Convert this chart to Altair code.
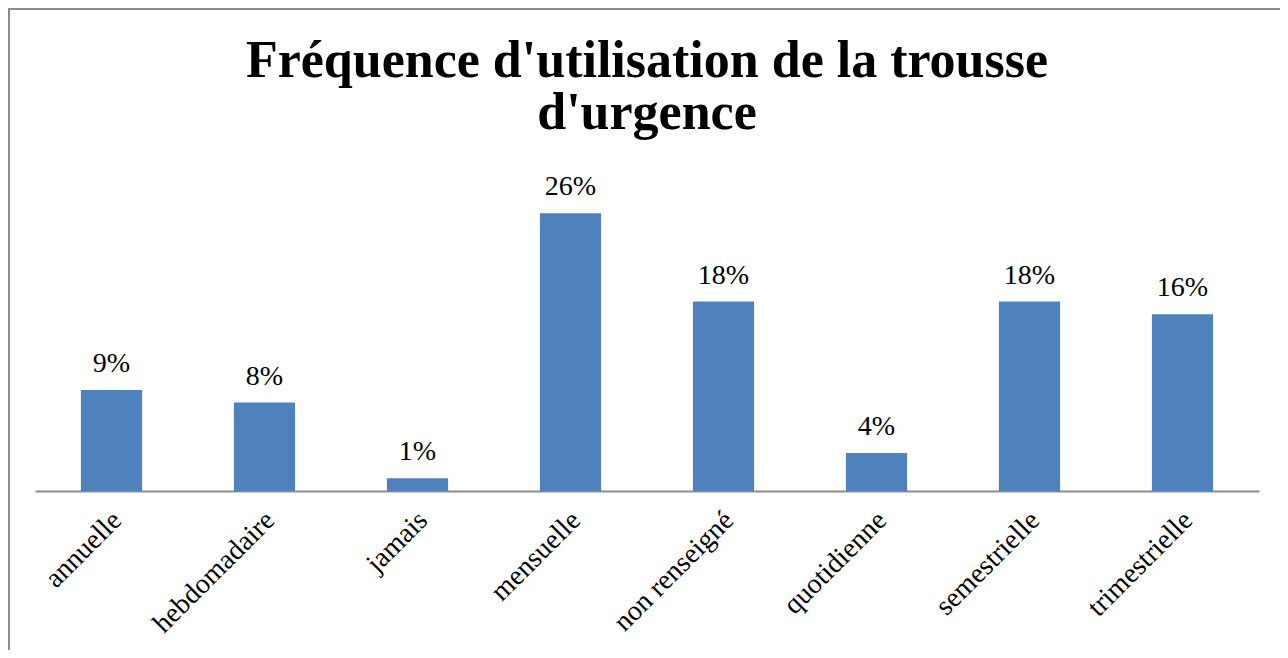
import altair as alt
import pandas as pd

categories = ["annuelle", "hebdomadaire", "jamais", "mensuelle",
              "non renseigné", "quotidienne", "semestrielle", "trimestrielle"]
shares = [0.0941, 0.0824, 0.0118, 0.2588, 0.1765, 0.0353, 0.1765, 0.1647]
title_text = "Fréquence d'utilisation de la trousse\nd'urgence"

df = pd.DataFrame({"cat": categories, "share": shares})

x = alt.X("cat:N", sort=categories, title=None,
          scale=alt.Scale(paddingInner=0.6, paddingOuter=0.3),
          axis=alt.Axis(labelAngle=-45, labelFont="Liberation Serif", labelFontSize=28,
                        labelColor="black", labelPadding=15, labelOffset=-4, ticks=False,
                        domainColor="#8c8c8c", domainWidth=2, labelLimit=400))
y = alt.Y("share:Q", scale=alt.Scale(domain=[0, 0.3]), axis=None)

base = alt.Chart(df)
bars = base.mark_bar(color="#4F81BD").encode(x=x, y=y)
labels = base.mark_text(baseline="alphabetic", dy=-18, font="Liberation Serif",
                        fontSize=28, color="black").encode(
    x=x, y=y, text=alt.Text("share:Q", format=".0%"))

one = alt.Chart(pd.DataFrame({"k": [0]}))
border = one.mark_rect(
    fill="white", fillOpacity=0, stroke="#8c8c8c", strokeWidth=2
).encode(x=alt.value(-26), x2=alt.value(2000), y=alt.value(-160), y2=alt.value(1000))

title = one.mark_text(
    text=title_text, lineBreak="\n", lineHeight=52, font="Liberation Serif",
    fontSize=52, fontWeight="bold", color="black", align="center", baseline="alphabetic"
).encode(x=alt.value(612), y=alt.value(-92))

chart = alt.layer(border, bars, labels, title).properties(
    width=1224, height=322,
    autosize=alt.AutoSizeParams(type="none"),
    padding={"left": 27, "top": 161, "right": 21, "bottom": 159},
).configure_view(strokeWidth=0)

chart.save("out.html", embed_options={"renderer": "svg", "actions": False})
